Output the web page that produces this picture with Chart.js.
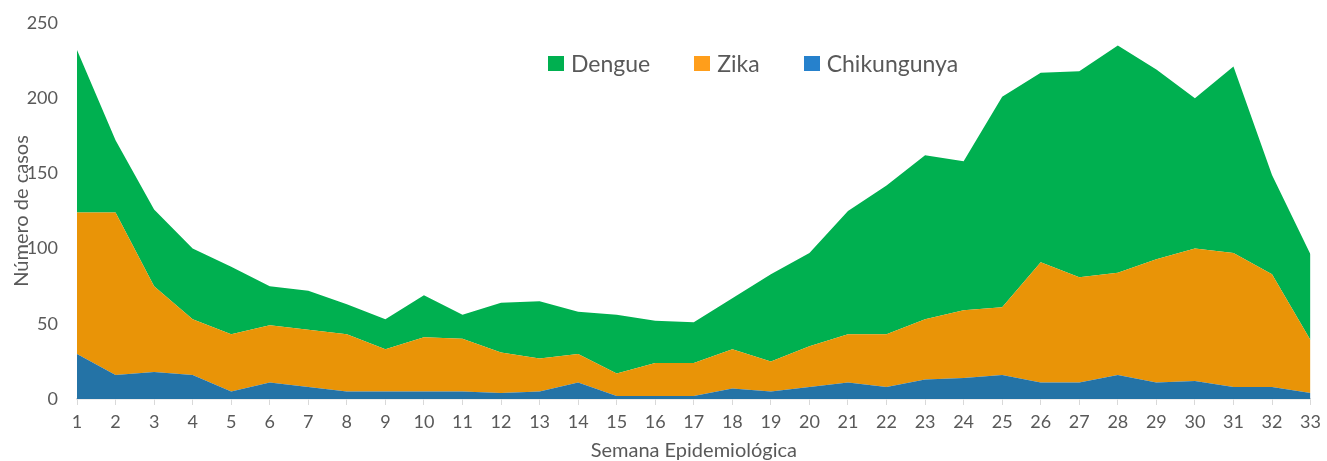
<!DOCTYPE html>
<html>
<head>
<meta charset="utf-8">
<script src="https://cdn.jsdelivr.net/npm/chart.js@4.4.1/dist/chart.umd.min.js"></script>
<style>
    body { margin: 0; background: #fff; }
    #wrap { position: relative; width: 1327px; height: 461px; }
    #customLegend {
        position: absolute; left: 548px; top: 49px;
        font-family: Lato, sans-serif; font-size: 23px; color: #595959;
        display: flex; align-items: center; white-space: nowrap;
    }
    .legend-item { display: flex; align-items: center; margin-right: 44px; }
    .legend-color { width: 16px; height: 15px; display: inline-block; margin-right: 7px; }
</style>
</head>
<body>
<div id="wrap">
    <canvas id="casesChart" width="1327" height="461"></canvas>
    <div id="customLegend"></div>
</div>
<script>
const weeks = Array.from({ length: 33 }, (_, i) => String(i + 1));
const chikungunya = [30, 16, 18, 16, 5, 11, 8, 5, 5, 5, 5, 4, 5, 11, 2, 2, 2, 7, 5, 8, 11, 8, 13, 14, 16, 11, 11, 16, 11, 12, 8, 8, 4];
const zika = [94, 108, 57, 37, 38, 38, 38, 38, 28, 36, 35, 27, 22, 19, 15, 22, 22, 26, 20, 27, 32, 35, 40, 45, 45, 80, 70, 68, 82, 88, 89, 75, 35];
const dengue = [108, 48, 51, 47, 45, 26, 26, 20, 20, 28, 16, 33, 38, 28, 39, 28, 27, 34, 58, 62, 82, 99, 109, 99, 140, 126, 137, 151, 126, 100, 124, 66, 57];
const yTicks = [0, 50, 100, 150, 200, 250];

const legendItems = [
    { label: 'Dengue', color: '#00b050' },
    { label: 'Zika', color: '#ff9e1b' },
    { label: 'Chikungunya', color: '#2681cc' }
];

const font = { family: 'Lato, sans-serif', size: 18 };

// soft glow above the top area, like the original
const glow = {
    id: 'glow',
    beforeDatasetDraw(chart, args) {
        if (args.index === 2) {
            chart.ctx.save();
            chart.ctx.shadowColor = 'rgba(0,0,0,0.22)';
            chart.ctx.shadowBlur = 24;
        }
    },
    afterDatasetDraw(chart, args) {
        if (args.index === 2) chart.ctx.restore();
    }
};

new Chart(document.getElementById('casesChart'), {
    type: 'line',
    data: {
        labels: weeks,
        datasets: [
            { label: 'Chikungunya', data: chikungunya, backgroundColor: '#2473a6', fill: 'origin' },
            { label: 'Zika', data: zika, backgroundColor: '#e99407', fill: '-1' },
            { label: 'Dengue', data: dengue, backgroundColor: '#00b050', fill: '-1' }
        ].map(d => Object.assign(d, { borderWidth: 0, pointRadius: 0, tension: 0 }))
    },
    options: {
        responsive: false,
        animation: false,
        layout: { padding: { left: 0, right: 11, top: 23, bottom: 0 } },
        plugins: { legend: { display: false }, tooltip: { enabled: false } },
        scales: {
            x: {
                offset: false,
                grid: { display: true, drawOnChartArea: false, color: '#d9d9d9', tickLength: 6 },
                border: { color: '#d9d9d9', width: 1.5 },
                ticks: { color: '#595959', font: font, padding: 6, maxRotation: 0, autoSkip: false },
                title: {
                    display: true, text: 'Semana Epidemiológica', color: '#595959',
                    font: { family: 'Lato, sans-serif', size: 20, lineHeight: 1 }, padding: { top: 0, bottom: 0 }
                },
                afterFit(scale) { scale.height = 62; }
            },
            y: {
                stacked: true, min: 0, max: 250,
                grid: { display: false, drawTicks: false },
                border: { display: false },
                afterBuildTicks(scale) { scale.ticks = yTicks.map(v => ({ value: v })); },
                ticks: { color: '#595959', font: font, padding: 19 },
                title: {
                    display: true, text: 'Número de casos', color: '#595959',
                    font: { family: 'Lato, sans-serif', size: 20, lineHeight: 1 }, padding: { top: 12, bottom: 0 }
                },
                afterFit(scale) {
                    scale.width = 77;
                    scale.paddingTop = 11;
                    scale.paddingBottom = 11;
                }
            }
        }
    },
    plugins: [glow]
});

document.getElementById('customLegend').innerHTML = legendItems.map(item => `
    <div class="legend-item">
        <span class="legend-color" style="background-color:${item.color};"></span>
        <span class="legend-label">${item.label}</span>
    </div>
`).join('');
</script>
</body>
</html>
